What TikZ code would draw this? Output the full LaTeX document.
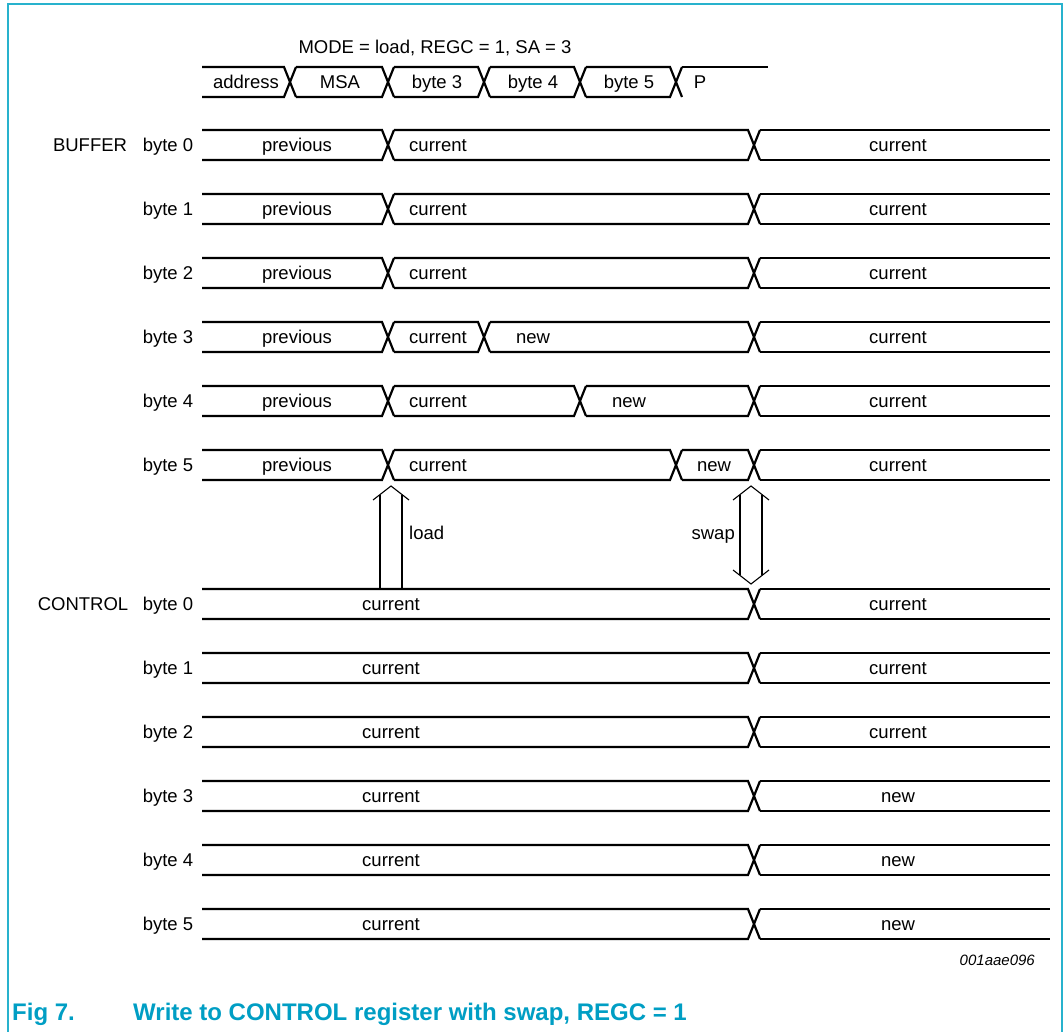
\documentclass[tikz,border=0pt]{standalone}
\usepackage{fontspec}
\setmainfont{Liberation Sans}
\definecolor{framec}{RGB}{40,178,205}
\definecolor{capc}{RGB}{0,158,196}
% #1 = centre y, #2 = half height, #3 = transitions, #4 = end x
\newcommand{\busrow}[4]{%
  \gdef\prevx{202}%
  \foreach \t in {#3} {%
    \draw[sig] (\prevx,#1-#2) -- (\t-6,#1-#2) -- (\t+6,#1+#2);
    \draw[sig] (\prevx,#1+#2) -- (\t-6,#1+#2) -- (\t+6,#1-#2);
    \pgfmathsetmacro\nx{\t+6}\xdef\prevx{\nx}%
  }%
  \draw[sig] (\prevx,#1-#2) -- (#4,#1-#2);
  \draw[sig] (\prevx,#1+#2) -- (#4,#1+#2);
}
\begin{document}
\begin{tikzpicture}[x=1pt,y=-1pt,
  sig/.style={line width=2.2pt,line join=miter,line cap=butt},
  lbl/.style={font=\fontsize{18.5}{22}\selectfont, inner sep=0pt, anchor=base},
  arr/.style={line width=1.1pt,line join=miter},
  captxt/.style={font=\fontsize{24}{28}\selectfont\bfseries, text=capc, inner sep=0pt, anchor=base west}]
\useasboundingbox (0,0) rectangle (1063,1032);
% frame
\draw[framec,line width=2pt] (8,1032) -- (8,4) -- (1062,4) -- (1062,1032);

% top bus
\node[lbl] (mode) at (435,54) {MODE = load, REGC = 1, SA = 3};
\gdef\prevx{202}%
\foreach \t in {290,388,484,580,676} {%
  \draw[sig] (\prevx,67) -- (\t-6,67) -- (\t+6,97);
  \draw[sig] (\prevx,97) -- (\t-6,97) -- (\t+6,67);
  \pgfmathsetmacro\nx{\t+6}\xdef\prevx{\nx}%
}
\draw[sig] (682,67) -- (768,67);
\node[lbl] (baddr) at (246,88.5) {address};
\node[lbl] (bmsa) at (340,88.5) {MSA};
\node[lbl] (bb3) at (437,88.5) {byte 3};
\node[lbl] (bb4) at (533,88.5) {byte 4};
\node[lbl] (bb5) at (629,88.5) {byte 5};
\node[lbl] (bp) at (700,88.5) {P};

% BUFFER rows
\busrow{145}{15}{388,754}{1050}
\busrow{209}{15}{388,754}{1050}
\busrow{273}{15}{388,754}{1050}
\busrow{337}{15}{388,484,754}{1050}
\busrow{401}{15}{388,580,754}{1050}
\busrow{465}{15}{388,676,754}{1050}

\node[lbl] (buf) at (90,151.5) {BUFFER};
\foreach \i/\y in {0/145,1/209,2/273,3/337,4/401,5/465} {
  \node[lbl] (bl\i) at (168,\y+6.5) {byte \i};
  \node[lbl] (bprev\i) at (297,\y+6.5) {previous};
  \node[lbl] (bcur\i) at (438,\y+6.5) {current};
  \node[lbl] (bright\i) at (898,\y+6.5) {current};
}
\node[lbl] (bnew3) at (533,343.5) {new};
\node[lbl] (bnew4) at (629,407.5) {new};
\node[lbl] (bnew5) at (714,471.5) {new};

% CONTROL rows
\foreach \y in {604,668,732,796,860,924} {\busrow{\y}{15}{754}{1050}}
\node[lbl] (ctl) at (83,610.5) {CONTROL};
\foreach \i/\y/\r in {0/604/current,1/668/current,2/732/current,3/796/new,4/860/new,5/924/new} {
  \node[lbl] (cl\i) at (168,\y+6.5) {byte \i};
  \node[lbl] (ccur\i) at (391,\y+6.5) {current};
  \node[lbl] (cright\i) at (898,\y+6.5) {\r};
}

% load arrow
\coordinate (ltip) at (391,486);
\draw[arr] (373,500) -- (ltip) -- (409,500);
\draw[arr] (380,494.6) -- (380,589);
\draw[arr] (402,494.6) -- (402,589);
\node[lbl,anchor=base west] (load) at (409,539.5) {load};

% swap arrow
\coordinate (stip) at (751,486);
\coordinate (sbot) at (751,584);
\draw[arr] (733,500) -- (stip) -- (769,500);
\draw[arr] (733,570) -- (sbot) -- (769,570);
\draw[arr] (740,494.6) -- (740,575.4);
\draw[arr] (762,494.6) -- (762,575.4);
\node[lbl,anchor=base east] (swap) at (735,539.5) {swap};

% figure id
\node[font=\fontsize{15}{18}\selectfont\itshape, inner sep=0pt, anchor=base east] (fid) at (1035,965) {001aae096};

% caption
\node[captxt] (figno) at (12,1020) {Fig 7.};
\node[captxt] (cap) at (133,1020) {Write to CONTROL register with swap, REGC = 1};
\end{tikzpicture}
\end{document}
